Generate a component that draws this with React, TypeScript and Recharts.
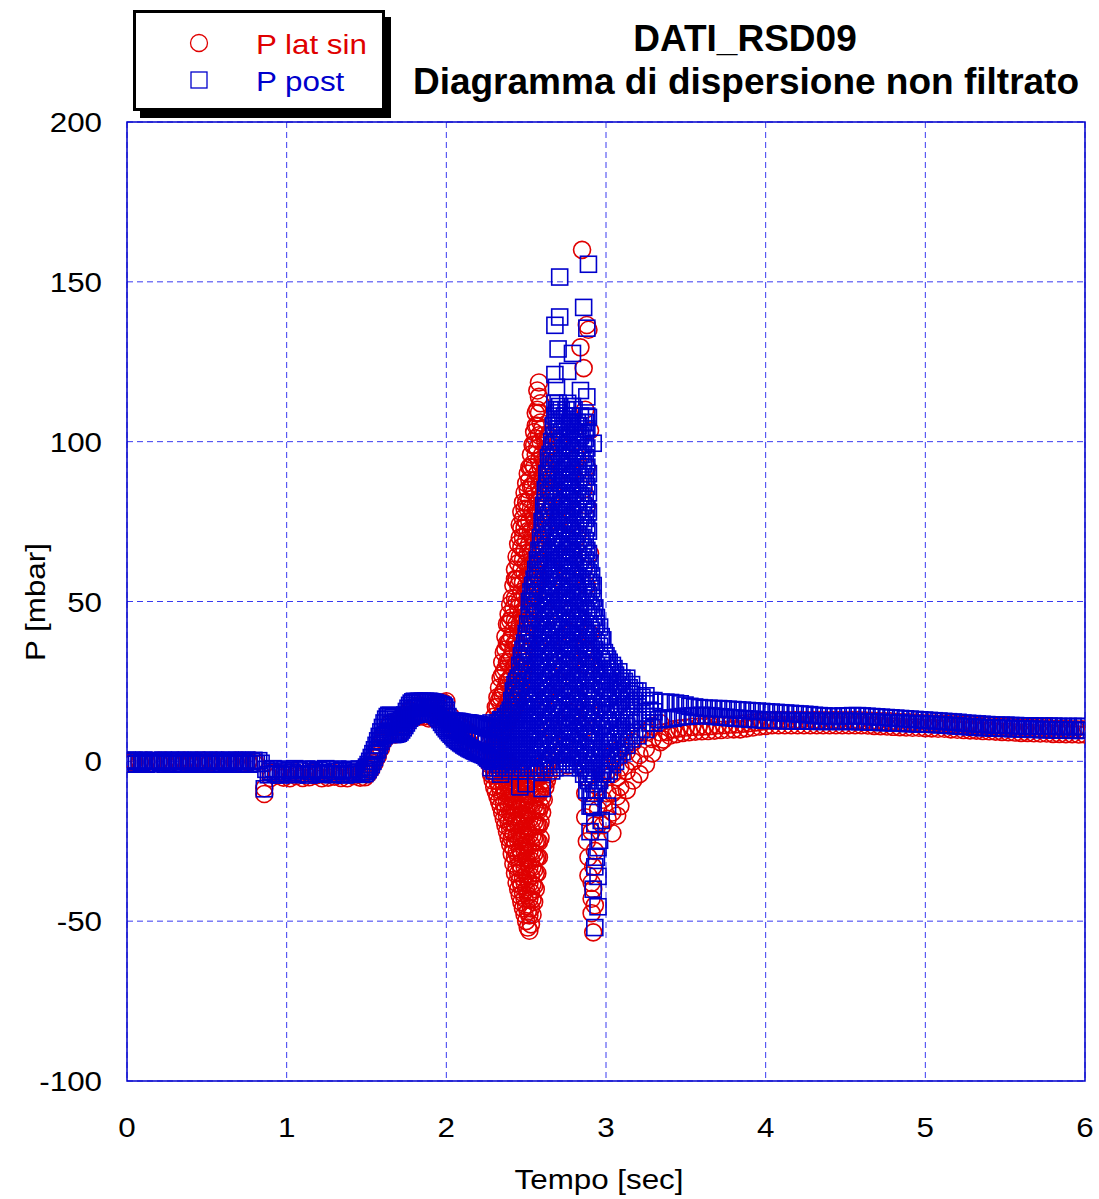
import { ScatterChart, Scatter, XAxis, YAxis, CartesianGrid, ReferenceArea } from 'recharts';

/* ─── Data: P lat sin (red circles), [tempo, values at that tempo] ─────────── */

type Col = [number, number[]];
type Pt = [number, number];

const latSinFlat: Col[] = [
  [0, [0.2, -0.7]], [0.04, [-0.3, 0.1]], [0.08, [0.2, -0.6]], [0.12, [-0.4, 0.2]], [0.16, [0.1, -0.7]],
  [0.2, [-0.3, 0.2]], [0.24, [0.2, -0.6]], [0.28, [-0.5, 0.1]], [0.32, [0.2, -0.7]], [0.36, [-0.3, 0.2]],
  [0.4, [0.1, -0.6]], [0.44, [-0.4, 0.2]], [0.48, [0.2, -0.7]], [0.52, [-0.3, 0.1]], [0.56, [0.2, -0.6]],
  [0.6, [-0.5, 0.2]], [0.64, [0.1, -0.7]], [0.68, [-0.3, 0.2]], [0.72, [0.2, -0.6]], [0.76, [-0.4, 0.1]],
  [0.8, [0.2, -0.7]],
];
const latSinDip: Col[] = [[0.86, [-10.2, -8.4]]];
const latSinLow: Col[] = [
  [0.9, [-3.6, -5.2]], [0.94, [-4.4, -3.5]], [0.98, [-5.1, -3.8]], [1.02, [-3.6, -5.3]], [1.06, [-4.6, -3.5]],
  [1.1, [-5.2, -3.9]], [1.14, [-3.7, -5]], [1.18, [-4.5, -3.6]], [1.22, [-5.3, -4]], [1.26, [-3.6, -5.1]],
  [1.3, [-4.8, -3.7]], [1.34, [-5.2, -4.1]], [1.38, [-3.8, -5.3]], [1.42, [-4.6, -3.6]], [1.46, [-5.1, -3.9]],
];
const latSinRise: Col[] = [
  [1.49, [-5, -3.5]], [1.51, [-4, -2.5]], [1.53, [-2.5, -1]], [1.55, [-0.5, 1]], [1.57, [1.5, 3.5]],
  [1.59, [4, 6]], [1.61, [6.5, 8.5]], [1.63, [8.5, 10.5]], [1.65, [9, 12]],
];
const latSinMid: Col[] = [
  [1.68, [8.4, 11.5]], [1.71, [9, 12]], [1.74, [11, 13.5]], [1.77, [13, 16]], [1.8, [14.5, 17]],
  [1.83, [14, 17.5]], [1.86, [14, 17]], [1.89, [13.4, 17]], [1.92, [13.5, 17.5]], [1.95, [14, 17.5]],
  [1.98, [14, 18.5]], [2, [13, 18.8]],
];
const latSinFall: Col[] = [
  [2.03, [11.5, 14]], [2.06, [10, 12.5]], [2.09, [8.5, 11]], [2.12, [6.5, 10]], [2.15, [5.5, 9]],
  [2.18, [4, 8]], [2.21, [3, 7]], [2.24, [1.5, 6]], [2.27, [-1, 4]],
];
const latSinLobeDown: Col[] = [
  [2.28, [-4, 0.5, 4]], [2.29, [-6, -1, 3]],
  [2.3, [-8, -3.2, 1.8]], [2.31, [-9.5, -4.5, 0.5]],
  [2.32, [-11, -6.1, -1.3, 3.6]], [2.33, [-12.5, -7.5, -2.5, 2]],
  [2.34, [-14, -9.2, -4.4, 0.8]], [2.35, [-16, -11, -6, -1]],
  [2.36, [-18, -13.1, -8.3, -3.2, 1.7]], [2.37, [-20, -15, -10, -5, 0]],
  [2.38, [-22, -17.2, -12.4, -7.1, -2.3]], [2.39, [-24, -19, -14, -9, -4]],
  [2.4, [-26, -21.3, -16.1, -11.2, -6.4, -1.2]], [2.41, [-29, -24, -19, -14, -9, -4]],
  [2.42, [-32, -27.2, -22.4, -17.1, -12.3, -7.2, -2.1]], [2.43, [-35, -30, -25, -20, -15, -10, -5]],
  [2.44, [-38, -33.1, -28.3, -23.2, -18.4, -13.1, -8.2, -3.3]], [2.45, [-40, -35, -30, -25, -20, -15, -10, -5]],
  [2.46, [-42, -37.3, -32.1, -27.4, -22.2, -17.1, -12.3, -7.4, -2.2]],
  [2.47, [-44, -39, -34, -29, -24, -19, -14, -9, -4]],
  [2.48, [-46, -41.2, -36.4, -31.1, -26.3, -21.2, -16.4, -11.1, -6.2]],
  [2.49, [-48, -43, -38, -33, -28, -23, -18, -13, -8]],
  [2.5, [-50, -45.3, -40.2, -35.4, -30.1, -25.3, -20.2, -15.1, -10.3, -5.2]],
  [2.51, [-52, -47, -42, -37, -32, -27, -22, -17, -12, -7]],
  [2.52, [-53, -48.2, -43.1, -38.3, -33.2, -28.4, -23.1, -18.2, -13.4, -8.1]],
  [2.53, [-51, -46, -41, -36, -31, -26, -21, -16, -11, -6]],
  [2.54, [-48, -43.2, -38.4, -33.1, -28.2, -23.3, -18.1, -13.2, -8.3]],
  [2.55, [-44, -39, -34, -29, -24, -19, -14, -9, -4]],
  [2.56, [-40, -35.1, -30.3, -25.2, -20.1, -15.3, -10.2, -5.1]],
  [2.57, [-35, -30, -25, -20, -15, -10, -5]],
  [2.58, [-30, -25.2, -20.1, -15.3, -10.2, -5.1]], [2.59, [-24, -19, -14, -9, -4]],
  [2.6, [-16, -11.2, -6.1, -1.3]], [2.61, [-12, -7, -2]],
  [2.62, [-8, -3.2]], [2.63, [-6, -1]], [2.64, [-4, 0.3]],
];
const latSinLobeUp: Col[] = [
  [2.3, [4, 9, 14]], [2.31, [5, 11, 17]],
  [2.32, [6, 12, 17, 20]], [2.33, [7, 13, 19, 23]],
  [2.34, [8, 14, 20, 26]], [2.35, [9, 15, 21, 27, 31]],
  [2.36, [10, 16, 22, 28, 34]], [2.37, [11, 17, 23, 29, 35, 39]],
  [2.38, [12, 18, 25, 31, 37, 43]], [2.39, [13, 19, 25, 31, 37, 43, 46]],
  [2.4, [14, 20, 26, 32, 38, 44, 49]], [2.41, [15, 21, 27, 33, 39, 45, 51]],
  [2.42, [16, 23, 29, 35, 41, 48, 55]], [2.43, [17, 23, 30, 37, 44, 51, 57, 60]],
  [2.44, [18, 24, 30, 37, 43, 50, 57, 64]], [2.45, [20, 27, 34, 41, 48, 55, 62, 68]],
  [2.46, [22, 29, 36, 43, 50, 57, 64, 70, 74]], [2.47, [25, 32, 39, 46, 53, 60, 67, 73, 78]],
  [2.48, [28, 35, 42, 49, 56, 63, 70, 76, 81]], [2.49, [31, 38, 45, 52, 59, 66, 73, 79, 84]],
  [2.5, [34, 41, 48, 55, 62, 69, 75, 81, 87]], [2.51, [37, 44, 51, 58, 65, 72, 79, 85, 90]],
  [2.52, [40, 47, 54, 61, 68, 75, 82, 88, 92]], [2.53, [44, 51, 58, 65, 72, 79, 86, 92, 96]],
  [2.54, [48, 55, 62, 70, 78, 86, 93, 99]], [2.55, [52, 60, 68, 76, 84, 92, 99, 103]],
  [2.56, [56, 64, 72, 80, 88, 96, 101, 105, 109]], [2.57, [58, 66, 74, 82, 90, 98, 105, 110, 116]],
  [2.58, [62, 70, 78, 86, 94, 102, 109, 114, 118.5]], [2.59, [68, 76, 84, 92, 100, 106, 112]],
  [2.6, [72, 80, 88, 96, 104]], [2.61, [78, 86, 94, 102]],
  [2.62, [84, 92, 100]], [2.63, [90, 98]], [2.64, [94, 102]],
];
const latSinPeakMix: Col[] = [
  [2.62, [20, 45]], [2.66, [10, 35, 60, 85]], [2.7, [-2, 25, 50, 75, 100]], [2.74, [5, 30, 55, 80]],
  [2.76, [-1.3]], [2.78, [15, 40, 65, 90]], [2.82, [20, 45, 70, 95]], [2.84, [129.5]], [2.85, [160]],
  [2.86, [10, 35, 60, 85, 123]], [2.87, [110]], [2.88, [30, 55, 80, 92, 136.5]], [2.89, [135]],
  [2.9, [15, 40, 65, 103.5]],
];
const latSinLobeRight: Col[] = [
  [2.87, [-10, -17.5]], [2.88, [-5, -25]], [2.89, [-35.7, -30]], [2.91, [-14, -22, -38, -43, -47.5]],
  [2.92, [-53.5, -40, -33]], [2.93, [-45, -20, -28]], [2.95, [-8, -15]], [2.98, [-12, -20, -4]],
  [3.01, [-18, -10, -3]], [3.04, [-22.5, -16, -10, -4, 2]], [3.07, [-17, -11, -5, 1]],
  [3.09, [-14, -8, -2, 4]], [3.13, [-9, -3, 3]], [3.17, [-6, 0, 6]], [3.21, [-4, 2, 8]],
  [3.25, [-1, 4, 9]], [3.29, [2.5, 7, 11]], [3.34, [6, 9, 12]],
];
const latSinTail: Pt[] = [
  [3.36, 6.8], [3.38, 9.2], [3.4, 8], [3.42, 10], [3.44, 8.5], [3.46, 10.3], [3.48, 8.9], [3.5, 10.6],
  [3.52, 9.1], [3.54, 10.8], [3.56, 9.3], [3.58, 10.9], [3.6, 9.4], [3.62, 11], [3.64, 9.5], [3.66, 11.1],
  [3.68, 9.6], [3.7, 11.3], [3.72, 9.8], [3.74, 11.4], [3.76, 9.9], [3.78, 11.5], [3.8, 10], [3.82, 11.6],
  [3.84, 10], [3.86, 11.8], [3.88, 10.3], [3.9, 12], [3.92, 10.6], [3.94, 12.2], [3.96, 10.9], [3.98, 12.5],
  [4, 11.1], [4.02, 12.8], [4.04, 11.3], [4.06, 12.9], [4.08, 11.3], [4.1, 12.9], [4.12, 11.3], [4.14, 12.9],
  [4.16, 11.3], [4.18, 12.9], [4.2, 11.3], [4.22, 12.9], [4.24, 11.3], [4.26, 12.9], [4.28, 11.3], [4.3, 12.9],
  [4.32, 11.3], [4.34, 12.9], [4.36, 11.3], [4.38, 12.9], [4.4, 11.3], [4.42, 12.9], [4.44, 11.3], [4.46, 12.9],
  [4.48, 11.3], [4.5, 12.9], [4.52, 11.3], [4.54, 12.9], [4.56, 11.3], [4.58, 12.9], [4.6, 11.3], [4.62, 12.8],
  [4.64, 11.2], [4.66, 12.7], [4.68, 11.1], [4.7, 12.6], [4.72, 11], [4.74, 12.6], [4.76, 10.9], [4.78, 12.5],
  [4.8, 10.8], [4.82, 12.4], [4.84, 10.7], [4.86, 12.3], [4.88, 10.6], [4.9, 12.2], [4.92, 10.5], [4.94, 12.1],
  [4.96, 10.5], [4.98, 12], [5, 10.4], [5.02, 11.9], [5.04, 10.3], [5.06, 11.8], [5.08, 10.2], [5.1, 11.8],
  [5.12, 10.2], [5.14, 11.7], [5.16, 10], [5.18, 11.6], [5.2, 9.9], [5.22, 11.5], [5.24, 9.8], [5.26, 11.4],
  [5.28, 9.7], [5.3, 11.3], [5.32, 9.6], [5.34, 11.2], [5.36, 9.5], [5.38, 11.1], [5.4, 9.4], [5.42, 11],
  [5.44, 9.3], [5.46, 10.9], [5.48, 9.2], [5.5, 10.8], [5.52, 9.1], [5.54, 10.7], [5.56, 9], [5.58, 10.6],
  [5.6, 8.9], [5.62, 10.5], [5.64, 8.9], [5.66, 10.5], [5.68, 8.8], [5.7, 10.4], [5.72, 8.7], [5.74, 10.3],
  [5.76, 8.7], [5.78, 10.3], [5.8, 8.6], [5.82, 10.2], [5.84, 8.6], [5.86, 10.2], [5.88, 8.5], [5.9, 10.1],
  [5.92, 8.5], [5.94, 10.1], [5.96, 8.4], [5.98, 10], [6, 8.4],
];

/* ─── Data: P post (blue squares) ──────────────────────────────────────────── */

const postFlat: Pt[] = [
  [0, 0.4], [0.015, -0.9], [0.03, -0.1], [0.045, 0.3], [0.06, -0.7], [0.075, 0.2], [0.09, -0.4], [0.105, 0.4],
  [0.12, -0.9], [0.135, 0], [0.15, -0.6], [0.165, 0.3], [0.18, -0.8], [0.195, 0.1], [0.21, -0.3], [0.225, 0.4],
  [0.24, -0.9], [0.255, -0.1], [0.27, 0.3], [0.285, -0.7], [0.3, 0.2], [0.315, -0.5], [0.33, 0.4], [0.345, -0.9],
  [0.36, 0], [0.375, 0.3], [0.39, -0.7], [0.405, 0.1], [0.42, -0.4], [0.435, 0.4], [0.45, -0.9], [0.465, -0.2],
  [0.48, 0.3], [0.495, -0.8], [0.51, 0.2], [0.525, -0.5], [0.54, 0.4], [0.555, -0.9], [0.57, 0], [0.585, 0.3],
  [0.6, -0.7], [0.615, 0.1], [0.63, -0.4], [0.645, 0.4], [0.66, -0.9], [0.675, -0.1], [0.69, 0.3], [0.705, -0.8],
  [0.72, 0.2], [0.735, -0.5], [0.75, 0.4], [0.765, -0.9], [0.78, 0], [0.795, 0.3], [0.81, -0.7], [0.825, 0.2],
  [0.84, -0.6],
];
const postDip: Pt[] = [[0.86, -8.6]];
const postLow: Pt[] = [
  [0.87, -2.5], [0.885, -4.2], [0.9, -3.1], [0.915, -2.3], [0.93, -3.8], [0.945, -2.7], [0.96, -4.3],
  [0.975, -3.3], [0.99, -2.4], [1.005, -4], [1.02, -2.9], [1.035, -3.6], [1.05, -2.3], [1.065, -4.2],
  [1.08, -3], [1.095, -2.6], [1.11, -3.9], [1.125, -2.4], [1.14, -4.3], [1.155, -3.2], [1.17, -2.5],
  [1.185, -3.7], [1.2, -2.8], [1.215, -4.1], [1.23, -3.4], [1.245, -2.3], [1.26, -3.9], [1.275, -2.6],
  [1.29, -4.2], [1.305, -3.1], [1.32, -2.4], [1.335, -3.8], [1.35, -2.9], [1.365, -4.3], [1.38, -3.3],
  [1.395, -2.5], [1.41, -4], [1.425, -2.7], [1.44, -3.6], [1.455, -2.4], [1.47, -4.1], [1.485, -3.2],
];
const postRise: Col[] = [
  [1.49, [-3.8, -2.5]], [1.5, [-3.2, -1.8]], [1.51, [-2.6, -1]], [1.52, [-1.8, 0]], [1.53, [-1, 1.2]],
  [1.54, [0, 2.4]], [1.55, [1.2, 3.6]], [1.56, [2.4, 5]], [1.57, [3.6, 6.4]], [1.58, [5, 7.8]],
  [1.59, [6.2, 9.2]], [1.6, [7.2, 10.6]], [1.61, [8, 12]], [1.62, [8.4, 13.2]], [1.63, [8.6, 14]],
  [1.64, [8.5, 14.4]],
];
const postMid: Col[] = [
  [1.65, [8.5, 11.5, 14.4]], [1.66, [8.4, 14.2]], [1.67, [8.4, 11, 13.8]], [1.68, [8.5, 13.2]],
  [1.69, [8.6, 10.6, 12.6]], [1.7, [8.8, 12.4]], [1.71, [9.2, 10.8, 12.5]], [1.72, [9.8, 12.8]],
  [1.73, [10.5, 12, 13.5]], [1.74, [11.2, 14.5]], [1.75, [12, 13.8, 15.6]], [1.76, [12.8, 16.6]],
  [1.77, [13.5, 15.5, 17.5]], [1.78, [14, 18.2]], [1.79, [14.4, 16.5, 18.6]], [1.8, [14.6, 18.8]],
  [1.81, [14.7, 16.8, 18.6]], [1.82, [14.8, 18.7]], [1.83, [14.9, 16.8, 18.8]], [1.84, [15, 18.6]],
  [1.85, [15.1, 17, 18.8]], [1.86, [15.2, 18.7]], [1.87, [15.1, 17, 18.8]], [1.88, [15, 18.6]],
  [1.89, [15.1, 16.9, 18.8]], [1.9, [15, 18.7]], [1.91, [14.9, 16.8, 18.6]], [1.92, [14.8, 18.5]],
  [1.93, [14.6, 16.5, 18.4]], [1.94, [14.2, 18.2]], [1.95, [13.6, 15.8, 18]], [1.96, [13, 17.8]],
  [1.97, [12.2, 15, 17.6]], [1.98, [11.5, 17.5]], [1.99, [10.8, 14, 17]], [2, [10.2, 16]],
];
const postFall: Col[] = [
  [2.01, [9.6, 12, 14]], [2.02, [9, 12.8]], [2.03, [8.5, 10.5, 12.6]], [2.04, [8, 12.5]],
  [2.05, [7.5, 10, 12.5]], [2.06, [7, 12.5]], [2.07, [6.6, 9.5, 12.5]], [2.08, [6.2, 12.4]],
  [2.09, [5.8, 9, 12.3]], [2.1, [5.5, 12.2]], [2.11, [5.1, 8.6, 12.1]], [2.12, [4.8, 12]],
  [2.13, [4.5, 8.2, 12]], [2.14, [4.2, 12]], [2.15, [3.9, 7.8, 11.9]], [2.16, [3.7, 11.8]],
  [2.17, [3.4, 7.4, 11.7]], [2.18, [3.2, 11.6]], [2.19, [3, 7, 11.5]], [2.2, [2.8, 11.5]],
  [2.21, [2.5, 6.8, 11.4]], [2.22, [2.3, 11.3]], [2.23, [2.1, 6.5, 11.1]], [2.24, [1.9, 11]],
  [2.25, [1.4, 6, 10.8]], [2.26, [1, 10.5]], [2.27, [0.5, 5.5, 10.2]],
];
const postPeakLeft: Col[] = [
  [2.28, [-2, 3, 8, 12]], [2.29, [0, 5, 10]],
  [2.3, [-3, 2, 7, 11]], [2.31, [0, 5, 10]],
  [2.32, [-2, 3, 8, 12]], [2.33, [-1, 4, 9, 12]],
  [2.34, [-4, 1, 6, 10, 13]], [2.35, [0, 5, 10, 13]],
  [2.36, [-2, 3, 8, 13]], [2.37, [1, 6, 11, 14]],
  [2.38, [-1, 4, 9, 14]], [2.39, [0, 5, 10, 15]],
  [2.4, [-3, 2, 7, 12, 16]], [2.41, [0, 5, 10, 15, 19]],
  [2.42, [-2, 3, 8, 13, 18, 22]], [2.43, [1, 6, 11, 16, 21, 24]],
  [2.44, [-1, 4, 9, 14, 19, 25]], [2.45, [0, 5, 10, 15, 20, 26]],
  [2.46, [-8, -3, 2, 7, 12, 17, 23, 30]], [2.47, [0, 5, 10, 15, 21, 27, 33]],
  [2.48, [-2, 3, 8, 13, 18, 24, 30, 35]], [2.49, [1, 7, 13, 19, 25, 31, 37]],
  [2.5, [-7, -1, 5, 11, 17, 23, 29, 35, 40]], [2.51, [1, 7, 13, 19, 25, 31, 37, 43]],
  [2.52, [-2, 4, 10, 16, 22, 28, 34, 40, 46, 50]], [2.53, [1, 7, 13, 19, 25, 31, 37, 43, 49, 53]],
];
const postPeak: Col[] = [
  [2.54, [-2, 4, 11, 17, 24, 30, 37, 43, 50, 55]],
  [2.55, [1, 7, 14, 20, 27, 33, 40, 46, 52, 57]],
  [2.56, [-3, 4, 10, 17, 23, 30, 36, 43, 49, 55, 60]],
  [2.57, [2, 8, 14, 21, 27, 34, 40, 47, 53, 59, 63]],
  [2.58, [-1, 5, 12, 18, 25, 31, 38, 44, 51, 57, 62, 66]],
  [2.59, [2, 8, 15, 21, 28, 34, 41, 47, 54, 60, 66, 70]],
  [2.6, [-8.5, -2, 4, 11, 17, 24, 30, 37, 43, 50, 56, 63, 69, 75]],
  [2.61, [1, 8, 14, 21, 27, 34, 40, 47, 53, 60, 66, 73, 78, 80]],
  [2.62, [-2, 5, 11, 18, 24, 31, 37, 44, 50, 57, 63, 70, 76, 81, 85]],
  [2.63, [2, 9, 15, 22, 28, 35, 41, 48, 54, 61, 67, 74, 80, 87, 90]],
  [2.64, [-1, 6, 12, 19, 25, 32, 38, 45, 51, 58, 64, 71, 77, 84, 90, 95]],
  [2.65, [0, 7, 13, 20, 26, 33, 39, 46, 52, 59, 65, 72, 78, 85, 91, 96]],
  [2.66, [-3, 3, 10, 16, 23, 29, 36, 42, 49, 55, 62, 68, 75, 81, 88, 94, 100]],
  [2.67, [2, 8, 15, 21, 28, 34, 41, 47, 54, 60, 67, 73, 80, 86, 93, 99, 105]],
  [2.68, [-2, 5, 11, 18, 24, 31, 37, 44, 50, 57, 63, 70, 76, 83, 89, 96, 102, 108, 112]],
  [2.69, [3, 9, 16, 22, 29, 35, 42, 48, 55, 61, 68, 74, 81, 87, 94, 100, 106, 110]],
  [2.7, [0, 6, 13, 19, 26, 32, 39, 45, 52, 58, 65, 71, 78, 84, 91, 97, 104, 109, 112]],
  [2.71, [2, 9, 15, 22, 28, 35, 41, 48, 54, 61, 67, 74, 80, 87, 93, 100, 106, 111]],
  [2.72, [-1, 5, 12, 18, 25, 31, 38, 44, 51, 57, 64, 70, 77, 83, 90, 96, 103, 110]],
  [2.73, [3, 10, 16, 23, 29, 36, 42, 49, 55, 62, 68, 75, 81, 88, 94, 101, 107]],
  [2.74, [0, 7, 13, 20, 26, 33, 39, 46, 52, 59, 65, 72, 78, 85, 91, 98, 104, 108]],
  [2.75, [1, 8, 14, 21, 27, 34, 40, 47, 53, 60, 66, 73, 79, 86, 92, 99, 105, 110]],
  [2.76, [-2, 4, 11, 17, 24, 30, 37, 43, 50, 56, 63, 69, 76, 82, 89, 95, 102, 108, 112]],
  [2.77, [4, 10, 17, 23, 30, 36, 43, 49, 56, 62, 69, 75, 82, 88, 95, 101, 106]],
  [2.78, [1, 7, 14, 20, 27, 33, 40, 46, 53, 59, 66, 72, 79, 85, 92, 98, 104, 108]],
  [2.79, [2, 9, 15, 22, 28, 35, 41, 48, 54, 61, 67, 74, 80, 87, 93, 100, 106, 111]],
  [2.8, [-1, 6, 12, 19, 25, 32, 38, 45, 51, 58, 64, 71, 77, 84, 90, 97, 103, 110]],
  [2.81, [3, 9, 16, 22, 29, 35, 42, 48, 55, 61, 68, 74, 81, 87, 94, 100, 105]],
  [2.82, [0, 6, 13, 19, 26, 32, 39, 45, 52, 58, 65, 71, 78, 84, 91, 97, 102, 106]],
  [2.83, [1, 8, 14, 21, 27, 34, 40, 47, 53, 60, 66, 73, 79, 86, 92, 99, 105]],
  [2.84, [-2, 5, 11, 18, 24, 31, 37, 44, 50, 57, 63, 70, 76, 83, 89, 96, 102, 108]],
  [2.85, [-1, 5, 12, 18, 25, 31, 38, 44, 51, 57, 64, 70, 77, 83, 90, 96, 103]],
  [2.86, [-4, 2, 9, 15, 22, 28, 35, 41, 48, 54, 61, 67, 74, 80, 87, 93, 99, 106]],
  [2.87, [-2, 4, 11, 17, 24, 30, 37, 43, 50, 56, 63, 69, 76, 82, 89, 95, 101, 106]],
  [2.88, [-5, 1, 8, 14, 21, 27, 34, 40, 47, 53, 60, 66, 73, 79, 86, 92, 98, 104, 108]],
  [2.89, [-6, 0, 7, 13, 20, 26, 33, 39, 46, 52, 59, 65, 72, 78, 84, 90]],
  [2.9, [-9, -3, 4, 10, 17, 23, 30, 36, 43, 49, 56, 62]],
  [2.91, [-11, -4, 2, 9, 15, 22, 28, 35, 41, 48, 54, 58]],
  [2.92, [-14, -7, -1, 6, 12, 19, 25, 32, 38, 45, 51, 55]],
  [2.93, [-10, -4, 3, 9, 16, 22, 29, 35, 42, 48]],
  [2.94, [-9, -2, 4, 11, 17, 24, 30, 37, 43, 45]],
];
const postOutliers: Col[] = [
  [2.89, [155.5, 107.6]], [2.71, [151.5, 139]], [2.86, [142]], [2.68, [136.4, 121]], [2.88, [135.5, 114]],
  [2.7, [129]], [2.79, [127.6]], [2.76, [122]], [2.84, [116]], [2.69, [117]], [2.92, [99.5]],
];
const postLobeRight: Col[] = [
  [2.88, [-9]], [2.9, [-22, -14]], [2.91, [-14]], [2.92, [-40]], [2.93, [-52, -33, -19.5]], [2.94, [-30]],
  [2.95, [-45.5, -36, -27, -9]], [2.96, [-24.7]], [2.97, [-18.5]], [3.01, [-14]],
];
const postRight: Col[] = [
  [2.96, [-6, 1, 8, 15, 22, 29, 36, 42]], [2.97, [-3, 4, 11, 18, 25, 32, 39]],
  [2.98, [-4, 3, 10, 17, 24, 31, 38]], [2.99, [-1, 6, 13, 20, 27, 34]],
  [3, [-4, 2, 9, 16, 23, 29, 33]], [3.01, [0, 6, 13, 20, 27, 32]],
  [3.02, [-3, 4, 11, 18, 25, 31]], [3.03, [1, 8, 15, 22, 28]],
  [3.04, [-1, 6, 13, 20, 26, 30]], [3.05, [3, 10, 17, 24, 29]],
  [3.06, [0, 7, 14, 21, 27]], [3.07, [4, 11, 18, 24]],
  [3.08, [2, 9, 16, 22, 28]], [3.09, [5, 12, 19, 25]],
  [3.1, [3, 10, 17, 23, 26]], [3.115, [6, 13, 20, 25]],
  [3.13, [5, 11, 17, 22, 26]], [3.145, [8, 14, 19, 23]],
  [3.16, [7, 12, 17, 21, 24]], [3.18, [9, 14, 19, 22]],
  [3.2, [8, 13, 18, 22]], [3.225, [10, 15, 20]],
  [3.25, [10, 14, 18, 20.5]], [3.275, [12, 16, 19]],
  [3.3, [12, 15.5, 19]],
];
const postTail: Pt[] = [
  [3.33, 13], [3.345, 18.5], [3.36, 13.1], [3.375, 18.5], [3.39, 13.3], [3.405, 18.4], [3.42, 13.5], [3.435, 18.2],
  [3.45, 13.8], [3.465, 18], [3.48, 14], [3.495, 17.6], [3.51, 14.1], [3.525, 17.2], [3.54, 14.2], [3.555, 17],
  [3.57, 14.3], [3.585, 16.8], [3.6, 14.4], [3.615, 16.6], [3.63, 14.3], [3.645, 16.6], [3.66, 14.2], [3.675, 16.5],
  [3.69, 14], [3.705, 16.5], [3.72, 13.9], [3.735, 16.4], [3.75, 13.8], [3.765, 16.3], [3.78, 13.6], [3.795, 16.2],
  [3.81, 13.5], [3.825, 16.1], [3.84, 13.4], [3.855, 16], [3.87, 13.3], [3.885, 15.9], [3.9, 13.2], [3.915, 15.8],
  [3.93, 13.1], [3.945, 15.7], [3.96, 13], [3.975, 15.6], [3.99, 12.9], [4.005, 15.5], [4.02, 12.8], [4.035, 15.4],
  [4.05, 12.8], [4.065, 15.3], [4.08, 12.8], [4.095, 15.2], [4.11, 12.7], [4.125, 15.1], [4.14, 12.7], [4.155, 15],
  [4.17, 12.7], [4.185, 14.9], [4.2, 12.6], [4.215, 14.8], [4.23, 12.6], [4.245, 14.7], [4.26, 12.6], [4.275, 14.6],
  [4.29, 12.6], [4.305, 14.4], [4.32, 12.5], [4.335, 14.3], [4.35, 12.5], [4.365, 14.2], [4.38, 12.5], [4.395, 14.1],
  [4.41, 12.5], [4.425, 14], [4.44, 12.5], [4.455, 14.1], [4.47, 12.5], [4.485, 14.2], [4.5, 12.5], [4.515, 14.2],
  [4.53, 12.5], [4.545, 14.3], [4.56, 12.5], [4.575, 14.3], [4.59, 12.4], [4.605, 14.2], [4.62, 12.4], [4.635, 14.1],
  [4.65, 12.3], [4.665, 14], [4.68, 12.3], [4.695, 13.9], [4.71, 12.2], [4.725, 13.8], [4.74, 12.1], [4.755, 13.7],
  [4.77, 12.1], [4.785, 13.6], [4.8, 12], [4.815, 13.5], [4.83, 12], [4.845, 13.4], [4.86, 11.9], [4.875, 13.3],
  [4.89, 11.8], [4.905, 13.2], [4.92, 11.8], [4.935, 13.1], [4.95, 11.7], [4.965, 13], [4.98, 11.7], [4.995, 12.9],
  [5.01, 11.6], [5.025, 12.8], [5.04, 11.6], [5.055, 12.7], [5.07, 11.5], [5.085, 12.6], [5.1, 11.4], [5.115, 12.5],
  [5.13, 11.3], [5.145, 12.4], [5.16, 11.2], [5.175, 12.3], [5.19, 11.1], [5.205, 12.2], [5.22, 11], [5.235, 12],
  [5.25, 10.9], [5.265, 11.9], [5.28, 10.8], [5.295, 11.8], [5.31, 10.7], [5.325, 11.7], [5.34, 10.6], [5.355, 11.6],
  [5.37, 10.5], [5.385, 11.5], [5.4, 10.5], [5.415, 11.4], [5.43, 10.4], [5.445, 11.3], [5.46, 10.4], [5.475, 11.3],
  [5.49, 10.3], [5.505, 11.3], [5.52, 10.3], [5.535, 11.2], [5.55, 10.2], [5.565, 11.2], [5.58, 10.2], [5.595, 11.1],
  [5.61, 10.1], [5.625, 11.1], [5.64, 10.1], [5.655, 11.1], [5.67, 10], [5.685, 11], [5.7, 10], [5.715, 11],
  [5.73, 9.9], [5.745, 11], [5.76, 9.9], [5.775, 11], [5.79, 9.9], [5.805, 11], [5.82, 9.8], [5.835, 10.9],
  [5.85, 9.8], [5.865, 10.9], [5.88, 9.8], [5.895, 10.9], [5.91, 9.7], [5.925, 10.9], [5.94, 9.7], [5.955, 10.9],
  [5.97, 9.7], [5.985, 10.9], [6, 9.7],
];

const X_TICKS = [0, 1, 2, 3, 4, 5, 6];
const Y_TICKS = [-100, -50, 0, 50, 100, 150, 200];

/* ─── Styling ──────────────────────────────────────────────────────────────── */

const RED = '#e00000';
const BLUE = '#0000cc';
const GRID = '#3a3af0';
const FONT = '"Liberation Sans", Arial, Helvetica, sans-serif';
const FS = 28.5;       // glyph height of the reference
const STRETCH = 1.1;   // reference text is a little wider than Arial
const MARK_W = 1.6;

const fromCols = (c: Col[]) => c.flatMap(([t, vs]) => vs.map((v) => ({ t, v })));
const fromPts = (p: Pt[]) => p.map(([t, v]) => ({ t, v }));

const latSinData = [
  ...fromCols(latSinFlat), ...fromCols(latSinDip), ...fromCols(latSinLow), ...fromCols(latSinRise),
  ...fromCols(latSinMid), ...fromCols(latSinFall), ...fromCols(latSinLobeDown), ...fromCols(latSinLobeUp),
  ...fromCols(latSinPeakMix), ...fromCols(latSinLobeRight), ...fromPts(latSinTail),
];
const postData = [
  ...fromPts(postFlat), ...fromPts(postDip), ...fromPts(postLow), ...fromCols(postRise), ...fromCols(postMid),
  ...fromCols(postFall), ...fromCols(postPeakLeft), ...fromCols(postPeak), ...fromCols(postOutliers),
  ...fromCols(postLobeRight), ...fromCols(postRight), ...fromPts(postTail),
];

const Ring = (p: any) => (
  <circle cx={p.cx} cy={p.cy} r={8.5} fill="none" stroke={RED} strokeWidth={MARK_W} />
);
const Box = (p: any) => (
  <rect x={p.cx - 8} y={p.cy - 8} width={16} height={16} fill="none" stroke={BLUE} strokeWidth={MARK_W} />
);

/* stretched text, anchored at (x, y) */
function Txt({ x, y, anchor = 'start', rotate = 0, fill = '#000', dy, children }: any) {
  return (
    <text transform={`translate(${x},${y}) rotate(${rotate}) scale(${STRETCH},1)`} textAnchor={anchor}
      dy={dy} fontSize={FS} fill={fill} fontFamily={FONT}>
      {children}
    </text>
  );
}

const XTick = (p: any) => <Txt x={p.x} y={p.y} anchor="middle" dy="0.71em">{p.payload.value}</Txt>;
const YTick = (p: any) => <Txt x={p.x} y={p.y} anchor="end" dy="0.355em">{p.payload.value}</Txt>;

export default function App() {
  return (
    <div style={{ position: 'absolute', left: 0, top: 0, width: 1099, height: 1199, background: '#fff', fontFamily: FONT }}>
      <ScatterChart width={1099} height={1199} margin={{ top: 122, right: 14, bottom: 78, left: 47 }}>
        <CartesianGrid stroke={GRID} strokeDasharray="6 4" />
        <XAxis type="number" dataKey="t" domain={[0, 6]} ticks={X_TICKS} interval={0} height={40}
          tickSize={0} tickMargin={36} axisLine={false} tick={XTick} allowDataOverflow />
        <YAxis type="number" dataKey="v" domain={[-100, 200]} ticks={Y_TICKS} interval={0} width={80}
          tickSize={0} tickMargin={25} axisLine={false} tick={YTick} allowDataOverflow />
        <ReferenceArea x1={0} x2={6} y1={-100} y2={200} fill="none" stroke={BLUE} strokeWidth={1.5} />
        <Scatter data={latSinData} shape={Ring} isAnimationActive={false} />
        <Scatter data={postData} shape={Box} isAnimationActive={false} />
      </ScatterChart>

      {/* titles, legend, axis labels */}
      <svg width={1099} height={1199} style={{ position: 'absolute', left: 0, top: 0, pointerEvents: 'none' }}>
        <text x={745} y={51} textAnchor="middle" fontSize={37} fontWeight="bold" fontFamily={FONT}>DATI_RSD09</text>
        <text x={746} y={94} textAnchor="middle" fontSize={37} fontWeight="bold" fontFamily={FONT}>
          Diagramma di dispersione non filtrato
        </text>

        <rect x={140} y={17} width={251} height={101} fill="#000" />
        <rect x={134.5} y={11.5} width={249} height={98} fill="#fff" stroke="#000" strokeWidth={3} />
        <circle cx={199} cy={43} r={8.5} fill="none" stroke={RED} strokeWidth={1.3} />
        <rect x={191} y={72} width={16} height={16} fill="none" stroke={BLUE} strokeWidth={1.3} />
        <Txt x={256} y={54} fill={RED}>P lat sin</Txt>
        <Txt x={256} y={91} fill={BLUE}>P post</Txt>

        <Txt x={599} y={1189} anchor="middle">Tempo [sec]</Txt>
        <Txt x={45} y={602} anchor="middle" rotate={-90}>P [mbar]</Txt>
      </svg>
    </div>
  );
}
